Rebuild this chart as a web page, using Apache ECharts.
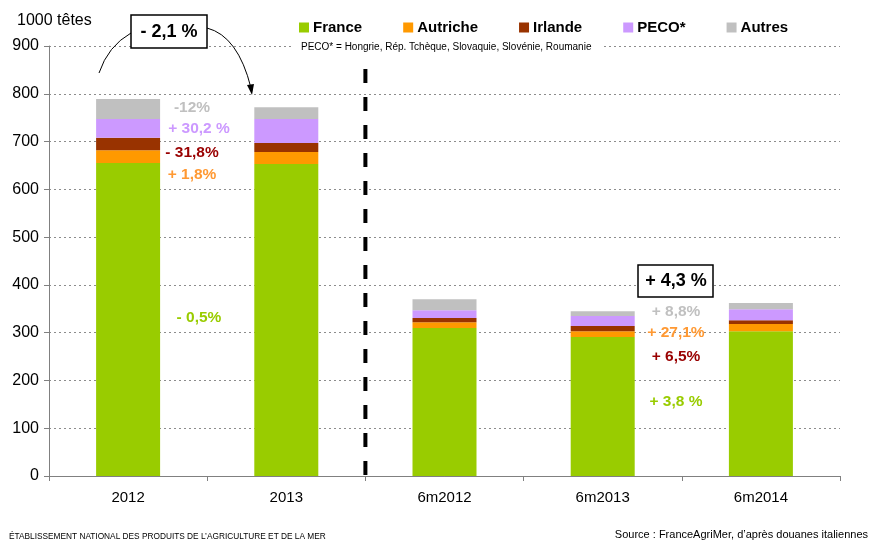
<!DOCTYPE html>
<html>
<head>
<meta charset="utf-8">
<script src="https://cdn.jsdelivr.net/npm/echarts@6/dist/echarts.min.js"></script>
<style>
html,body{margin:0;padding:0;background:#fff;}
#chart{width:869px;height:542px;}
</style>
</head>
<body>
<div id="chart"></div>
<script>
var categories = ['2012', '2013', '6m2012', '6m2013', '6m2014'];
var seriesNames = ['France', 'Autriche', 'Irlande', 'PECO*', 'Autres'];
var france   = [655, 653, 310, 291, 303];
var autriche = [27, 25, 12, 12, 15];
var irlande  = [26, 19, 8.5, 11, 8];
var peco     = [39, 50, 16.5, 21, 23];
var autres   = [42, 25, 23, 10, 13];
var yTicks = [0, 100, 200, 300, 400, 500, 600, 700, 800, 900];
var colors = ['#99CC00', '#FF9900', '#993300', '#CC99FF', '#C0C0C0'];

var FONT = 'Arial, "Liberation Sans", sans-serif';
var chart = echarts.init(document.getElementById('chart'));

var dataSets = [france, autriche, irlande, peco, autres];
var series = seriesNames.map(function (n, i) {
  return {
    name: n, type: 'bar', stack: 'total', barWidth: 64,
    itemStyle: { color: colors[i] },
    data: dataSets[i], silent: true
  };
});

chart.setOption({
  animation: false,
  backgroundColor: '#fff',
  grid: { left: 49, right: 29, top: 46, bottom: 66 },
  legend: {
    left: 294, top: 15, icon: 'rect', itemWidth: 10, itemHeight: 10, itemGap: 41,
    textStyle: { fontFamily: FONT, fontSize: 15, fontWeight: 'bold', color: '#000', padding: [0, 0, 0, -1] },
    data: seriesNames, selectedMode: false
  },
  xAxis: {
    type: 'category', data: categories,
    axisLine: { lineStyle: { color: '#808080', width: 1 } },
    axisTick: { show: true, length: 5, lineStyle: { color: '#808080' } },
    axisLabel: { fontFamily: FONT, fontSize: 15, color: '#000', margin: 14 }
  },
  yAxis: {
    type: 'value', min: yTicks[0], max: yTicks[yTicks.length - 1], interval: 100,
    axisLine: { show: true, lineStyle: { color: '#808080', width: 1 } },
    axisTick: { show: true, length: 5, lineStyle: { color: '#808080' } },
    axisLabel: { fontFamily: FONT, fontSize: 16, color: '#000', margin: 10 },
    splitLine: { lineStyle: { color: '#8c8c8c', type: [2, 3], width: 1 } }
  },
  series: series
});

var x1 = chart.convertToPixel({ xAxisIndex: 0 }, categories[1]);
var x2 = chart.convertToPixel({ xAxisIndex: 0 }, categories[2]);
var sepX = (x1 + x2) / 2;
var y0 = chart.convertToPixel({ yAxisIndex: 0 }, 0);

function label(txt, cx, cy, color, size) {
  return {
    type: 'text', x: cx, y: cy, z: 50,
    style: { text: txt, fill: color, font: 'bold ' + (size || 15.5) + 'px ' + FONT, align: 'center', verticalAlign: 'middle' }
  };
}

var graphics = [
  { type: 'text', left: 17, top: 13, style: { text: '1000 têtes', fill: '#000', font: '16px ' + FONT } },
  { type: 'rect', shape: { x: 292, y: 39, width: 312, height: 15 }, style: { fill: '#fff' }, z: 40 },
  { type: 'text', x: 301, y: 47, z: 41, style: { text: 'PECO* = Hongrie, Rép. Tchèque, Slovaquie, Slovénie, Roumanie', fill: '#000', font: '10px ' + FONT, verticalAlign: 'middle' } },
  { type: 'line', z: 30, shape: { x1: sepX, y1: 69, x2: sepX, y2: y0 + 4 }, style: { stroke: '#000', lineWidth: 4, lineDash: [14, 14] } },
  // -2,1 % box and arrows
  { type: 'bezierCurve', z: 30, shape: { x1: 99, y1: 73, x2: 131, y2: 33, cpx1: 108, cpy1: 46 }, style: { stroke: '#000', lineWidth: 1, fill: null } },
  { type: 'bezierCurve', z: 30, shape: { x1: 207, y1: 28, x2: 251, y2: 88, cpx1: 238, cpy1: 36 }, style: { stroke: '#000', lineWidth: 1, fill: null } },
  { type: 'polygon', z: 30, shape: { points: [[247, 85], [254, 84], [252, 95]] }, style: { fill: '#000' } },
  { type: 'rect', z: 45, shape: { x: 131, y: 15, width: 76, height: 33 }, style: { fill: '#fff', stroke: '#000', lineWidth: 1.5 } },
  label('- 2,1 %', 169, 32, '#000', 18),
  { type: 'rect', z: 45, shape: { x: 638, y: 265, width: 75, height: 32 }, style: { fill: '#fff', stroke: '#000', lineWidth: 1.5 } },
  label('+ 4,3 %', 676, 281, '#000', 18),
  label('-12%', 192, 108, '#C0C0C0'),
  label('+ 30,2 %', 199, 129, '#CC99FF'),
  label('- 31,8%', 192, 153, '#990000'),
  label('+ 1,8%', 192, 175, '#FF9933'),
  label('- 0,5%', 199, 318, '#99CC00'),
  label('+ 8,8%', 676, 312, '#C0C0C0'),
  label('+ 27,1%', 676, 333, '#FF9933'),
  label('+ 6,5%', 676, 357, '#990000'),
  label('+ 3,8 %', 676, 402, '#99CC00'),
  { type: 'text', x: 9, y: 537, style: { text: 'ÉTABLISSEMENT NATIONAL DES PRODUITS DE L\u2019AGRICULTURE ET DE LA MER', fill: '#000', font: '8.3px ' + FONT, verticalAlign: 'middle' } },
  { type: 'text', x: 868, y: 535, style: { text: 'Source : FranceAgriMer, d\u2019après douanes italiennes', fill: '#000', font: '11px ' + FONT, align: 'right', verticalAlign: 'middle' } }
];
chart.setOption({ graphic: graphics });
</script>
</body>
</html>
